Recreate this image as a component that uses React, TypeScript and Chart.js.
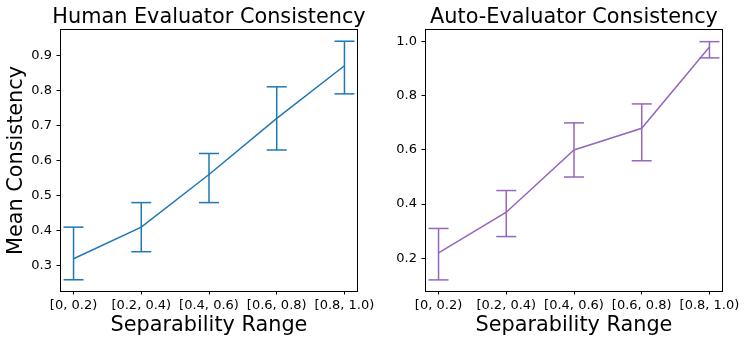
import React, { useEffect, useRef } from "react";
import { Chart, registerables } from "chart.js";

Chart.register(...registerables);

const categories = ["[0, 0.2)", "[0.2, 0.4)", "[0.4, 0.6)", "[0.6, 0.8)", "[0.8, 1.0)"];

const humanMean = [0.32, 0.41, 0.56, 0.72, 0.87];
const humanLow = [0.26, 0.34, 0.48, 0.63, 0.79];
const humanHigh = [0.41, 0.48, 0.62, 0.81, 0.94];

const autoMean = [0.22, 0.37, 0.6, 0.68, 0.98];
const autoLow = [0.12, 0.28, 0.5, 0.56, 0.94];
const autoHigh = [0.31, 0.45, 0.7, 0.77, 1.0];

const humanYTicks = [0.3, 0.4, 0.5, 0.6, 0.7, 0.8, 0.9];
const autoYTicks = [0.2, 0.4, 0.6, 0.8, 1.0];

const FONT = "'DejaVu Sans', 'Liberation Sans', sans-serif";
const BIG = 20.8;
const SMALL = 13;

const framePlugin = {
  id: "frame",
  afterLayout(chart: any) {
    // center the chart title over the plot area, with room to spill past it
    const tb = chart.titleBlock;
    const a = chart.chartArea;
    if (tb && a) {
      const cx = (a.left + a.right) / 2;
      const half = Math.min(cx, chart.width - cx);
      tb.left = cx - half;
      tb.right = cx + half;
      tb.width = 2 * half;
    }
  },
  afterDraw(chart: any) {
    const { ctx, chartArea: a } = chart;
    ctx.save();
    ctx.strokeStyle = "#000";
    ctx.lineWidth = 1;
    const l = Math.round(a.left) + 0.5;
    const t = Math.round(a.top) - 0.5;
    const r = Math.round(a.right) - 0.5;
    const b = Math.round(a.bottom) + 0.5;
    ctx.strokeRect(l, t, r - l, b - t);
    ctx.restore();
  },
};

type PanelProps = {
  title: string;
  mean: number[];
  low: number[];
  high: number[];
  yTicks: number[];
  yMin: number;
  yMax: number;
  color: string;
  yTitle?: string;
  yWidth: number;
  padRight: number;
};

function Panel(p: PanelProps) {
  const ref = useRef<HTMLCanvasElement | null>(null);
  useEffect(() => {
    if (!ref.current) return;
    const lineData = p.mean.map((v, i) => ({ x: i, y: v }));
    const errData: any[] = [];
    p.mean.forEach((_, i) => {
      errData.push({ x: i, y: p.low[i] });
      errData.push({ x: i, y: p.high[i] });
      errData.push({ x: i, y: null });
    });
    const chart = new Chart(ref.current, {
      type: "line",
      data: {
        datasets: [
          {
            data: errData,
            borderColor: p.color,
            borderWidth: 1.5,
            spanGaps: false,
            pointStyle: "line",
            pointRadius: 10,
            pointBorderWidth: 1.5,
            pointBorderColor: p.color,
            pointBackgroundColor: p.color,
            pointHoverRadius: 10,
            fill: false,
          },
          {
            data: lineData,
            borderColor: p.color,
            borderWidth: 1.5,
            pointRadius: 0,
            pointHoverRadius: 0,
            fill: false,
            tension: 0,
          },
        ],
      },
      options: {
        animation: false,
        responsive: false,
        devicePixelRatio: 1,
        layout: { padding: { left: 0, right: p.padRight, top: 0, bottom: 0 } },
        plugins: {
          legend: { display: false },
          tooltip: { enabled: false },
          title: {
            display: true,
            text: p.title,
            color: "#000",
            font: { family: FONT, size: BIG, weight: "normal", lineHeight: 1.2 },
            padding: { top: 5.3, bottom: -0.26 },
          },
        },
        events: [],
        scales: {
          x: {
            type: "linear",
            position: "bottom",
            min: -0.2,
            max: 4.2,
            afterBuildTicks: (s: any) => {
              s.ticks = categories.map((_, i) => ({ value: i }));
            },
            afterFit: (s: any) => {
              s.height = 53;
              s.paddingLeft = 0;
              s.paddingRight = 0;
            },
            grid: {
              display: true,
              drawOnChartArea: false,
              drawTicks: true,
              tickLength: 3.5,
              tickColor: "#000",
              color: "#000",
              lineWidth: 1,
            },
            border: { display: false },
            ticks: {
              callback: (v: any) => categories[Math.round(Number(v))],
              maxRotation: 0,
              minRotation: 0,
              autoSkip: false,
              padding: 3.3,
              color: "#000",
              font: { family: FONT, size: SMALL },
            },
            title: {
              display: true,
              text: "Separability Range",
              color: "#000",
              font: { family: FONT, size: BIG },
              padding: { top: 0, bottom: 6 },
            },
          },
          y: {
            type: "linear",
            position: "left",
            min: p.yMin,
            max: p.yMax,
            afterBuildTicks: (s: any) => {
              s.ticks = p.yTicks.map((v) => ({ value: v }));
            },
            afterFit: (s: any) => {
              s.width = p.yWidth;
              s.paddingTop = 0;
              s.paddingBottom = 0;
            },
            grid: {
              display: true,
              drawOnChartArea: false,
              drawTicks: true,
              tickLength: 3.5,
              tickColor: "#000",
              color: "#000",
              lineWidth: 1,
            },
            border: { display: false },
            ticks: {
              callback: (v: any) => Number(v).toFixed(1),
              padding: 4.5,
              color: "#000",
              font: { family: FONT, size: SMALL },
            },
            title: {
              display: !!p.yTitle,
              text: p.yTitle || "",
              color: "#000",
              font: { family: FONT, size: BIG },
              padding: { top: 4.3, bottom: 0 },
            },
          },
        },
      } as any,
      plugins: [framePlugin],
    });
    return () => chart.destroy();
  }, []);
  return <canvas ref={ref} width={374} height={344} style={{ display: "block", width: 374, height: 344 }} />;
}

export default function App() {
  return (
    <div
      style={{
        position: "absolute",
        left: 0,
        top: 0,
        width: 748,
        height: 344,
        display: "flex",
        background: "#fff",
      }}
    >
      <Panel
        title="Human Evaluator Consistency"
        mean={humanMean}
        low={humanLow}
        high={humanHigh}
        yTicks={humanYTicks}
        yMin={0.228}
        yMax={0.972}
        color="#1f77b4"
        yTitle="Mean Consistency"
        yWidth={60}
        padRight={16}
      />
      <Panel
        title="Auto-Evaluator Consistency"
        mean={autoMean}
        low={autoLow}
        high={autoHigh}
        yTicks={autoYTicks}
        yMin={0.079}
        yMax={1.043}
        color="#9467bd"
        yWidth={51}
        padRight={25}
      />
    </div>
  );
}
